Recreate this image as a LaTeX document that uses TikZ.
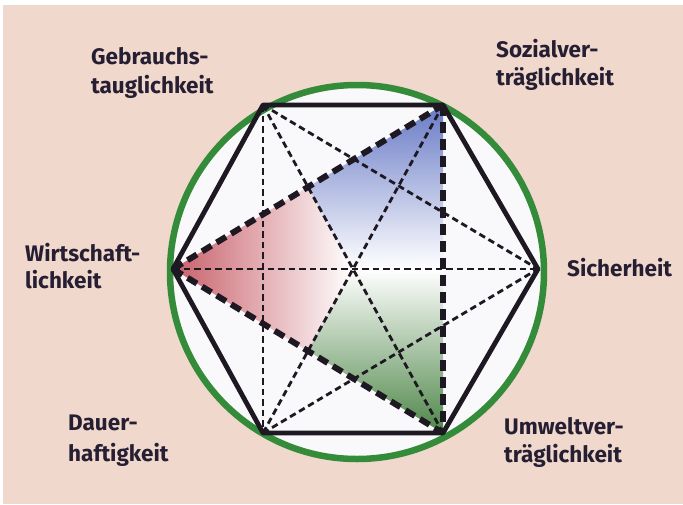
\documentclass[tikz,border=0pt]{standalone}
\usepackage{fontspec}
\setmainfont{Fira Sans}
\definecolor{bgbeige}{RGB}{240,217,204}
\definecolor{ringgreen}{RGB}{52,140,58}
\definecolor{inwhite}{RGB}{249,249,251}
\definecolor{txtdark}{RGB}{38,30,50}
\definecolor{linedark}{RGB}{30,24,34}
\definecolor{shred}{RGB}{200,96,106}
\definecolor{shblue}{RGB}{104,122,198}
\definecolor{shgreen}{RGB}{78,134,72}
\tikzset{
  lbl/.style={font=\bfseries\fontsize{22.5}{27}\selectfont, text=txtdark, align=left, anchor=base west, inner sep=0pt},
  hexline/.style={line width=4.8pt, linedark, line join=round},
  thickdash/.style={line width=6pt, linedark, dash pattern=on 11pt off 6pt},
  thindash/.style={line width=2.8pt, linedark, dash pattern=on 6.5pt off 4pt},
}
\begin{document}
\begin{tikzpicture}[x=1pt,y=-1pt]
\useasboundingbox (0,0) rectangle (683,504);
\fill[white] (0,0) rectangle (683,504);
\fill[bgbeige] (3,5) rectangle (683,504);
% ring
\node[circle, draw=ringgreen, line width=6.5pt, fill=inwhite, minimum size=374pt, inner sep=0pt] (ring) at (357,272) {};
% vertices
\coordinate (GT) at (263,105);
\coordinate (SV) at (443,105);
\coordinate (W) at (173,269);
\coordinate (S) at (538,269);
\coordinate (D) at (263,433);
\coordinate (UW) at (443,433);
\coordinate (C) at (intersection of GT--UW and SV--D);
\coordinate (P1) at (intersection of W--SV and GT--UW);
\coordinate (P2) at (intersection of W--UW and SV--D);
\coordinate (Q) at (443,269);
% shaded regions
\shade[left color=shred, right color=white] (W) -- (P1) -- (C) -- (P2) -- cycle;
\shade[top color=shblue, bottom color=white] (P1) -- (SV) -- (Q) -- (C) -- cycle;
\shade[top color=white, bottom color=shgreen] (C) -- (Q) -- (UW) -- (P2) -- cycle;
% thin dashed
\draw[thindash] (GT) -- (D);
\draw[thindash] (GT) -- (S);
\draw[thindash] (D) -- (S);
\draw[thindash] (GT) -- (UW);
\draw[thindash] (SV) -- (D);
\draw[thindash] (W) -- (S);
% thick dashed triangle
\draw[thickdash] (W) -- (SV);
\draw[thickdash] (SV) -- (UW);
\draw[thickdash] (W) -- (UW);
% hexagon
\draw[hexline] (W) -- (GT) -- (SV) -- (S) -- (UW) -- (D) -- cycle;
% labels (anchor at baseline of last line)
\node[lbl] (lGT) at (91,93) {Gebrauchs-\\[2pt]tauglichkeit};
\node[lbl] (lSV) at (496,85) {Sozialver-\\[1pt]träglichkeit};
\node[lbl] (lW) at (25,288) {Wirtschaft-\\[0pt]lichkeit};
\node[lbl] (lS) at (567,276) {Sicherheit};
\node[lbl] (lD) at (68,461) {Dauer-\\[4pt]haftigkeit};
\node[lbl] (lUW) at (504,462) {Umweltver-\\[1pt]träglichkeit};
\end{tikzpicture}
\end{document}
